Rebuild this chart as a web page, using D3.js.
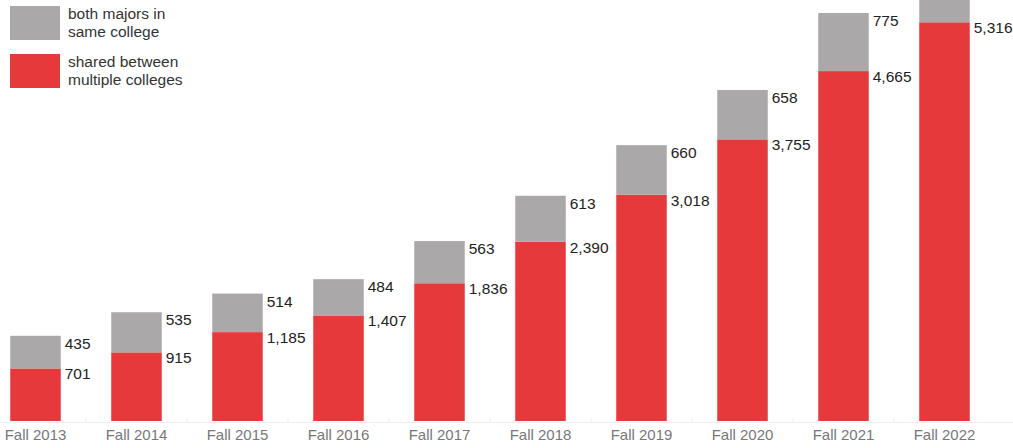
<!DOCTYPE html>
<html>
<head>
<meta charset="utf-8">
<script src="https://cdn.jsdelivr.net/npm/d3@7"></script>
<style>
  body { margin: 0; background: #fff; }
  text { font-family: "Liberation Sans", Arial, Helvetica, sans-serif; }
</style>
</head>
<body>
<div id="container"></div>
<script>
var years = ["Fall 2013", "Fall 2014", "Fall 2015", "Fall 2016", "Fall 2017",
             "Fall 2018", "Fall 2019", "Fall 2020", "Fall 2021", "Fall 2022"];
var shared = [701, 915, 1185, 1407, 1836, 2390, 3018, 3755, 4665, 5316];
var sameCollege = [435, 535, 514, 484, 563, 613, 660, 658, 775, 840];
var legendLabels = [["both majors in", "same college"], ["shared between", "multiple colleges"]];

var width = 1013,
    height = 448;

var red = "#e5393c",
    gray = "#aaa8a8";

var svg = d3.select("#container")
  .append("svg")
  .attr("width", width)
  .attr("height", height);

var x = d3.scaleBand()
  .domain(years)
  .range([-15, 995])
  .paddingInner(0.5)
  .paddingOuter(0.25);

var y = d3.scaleLinear()
  .domain([0, 5613])
  .range([421, 0]);

var data = years.map(function(d, i) {
  return { year: d, shared: shared[i], same: sameCollege[i] };
});

var stack = d3.stack().keys(["shared", "same"]);
var series = stack(data);
var colors = { shared: red, same: gray };

// faint baseline with small ticks between bars
svg.append("line")
  .attr("x1", 0).attr("x2", width)
  .attr("y1", 422.5).attr("y2", 422.5)
  .attr("stroke", "#f0f0f0");

svg.selectAll(".sep")
  .data(years.slice(1))
  .enter()
  .append("line")
  .attr("x1", function(d) { return x(d) - x.step() * 0.25; })
  .attr("x2", function(d) { return x(d) - x.step() * 0.25; })
  .attr("y1", 418).attr("y2", 423)
  .attr("stroke", "#eeeeee");

var groups = svg.selectAll("g.series")
  .data(series)
  .enter()
  .append("g")
  .attr("class", "series")
  .attr("fill", function(d) { return colors[d.key]; });

groups.selectAll("rect")
  .data(function(d) { return d; })
  .enter()
  .append("rect")
  .attr("x", function(d) { return x(d.data.year); })
  .attr("width", x.bandwidth())
  .attr("y", function(d) { return y(d[1]); })
  .attr("height", function(d) { return y(d[0]) - y(d[1]); });

// value labels to the right of each segment top (the one above the frame is cropped off, like the original)
groups.selectAll("text")
  .data(function(d) {
    return d.map(function(v) { v.key = d.key; return v; })
      .filter(function(v) { return y(v[1]) >= 0; });
  })
  .enter()
  .append("text")
  .attr("x", function(d) { return x(d.data.year) + x.bandwidth() + 4; })
  .attr("y", function(d) { return y(d[1]) + (d.key == "same" ? 13 : 11); })
  .attr("fill", "#222")
  .style("font-size", "15.5px")
  .text(function(d) { return d3.format(",")(d.data[d.key]); });

// x axis labels
var xAxis = d3.axisBottom(x).tickSize(0).tickPadding(0);
var ax = svg.append("g")
  .attr("transform", "translate(0,429)")
  .call(xAxis);
ax.select(".domain").remove();
ax.selectAll("text")
  .attr("dy", "0.75em")
  .attr("fill", "#777")
  .style("font-size", "15px")
  .style("font-family", "\"Liberation Sans\", Arial, sans-serif");

// legend
var legend = svg.selectAll("g.legend")
  .data([gray, red])
  .enter()
  .append("g")
  .attr("class", "legend")
  .attr("transform", function(d, i) { return "translate(10," + (6 + i * 48) + ")"; });

legend.append("rect")
  .attr("width", 50)
  .attr("height", 34)
  .attr("fill", function(d) { return d; });

legend.each(function(d, i) {
  var t = d3.select(this).append("text")
    .attr("x", 58)
    .attr("y", 13)
    .attr("fill", "#333")
    .style("font-size", "15.5px");
  t.selectAll("tspan")
    .data(legendLabels[i])
    .enter()
    .append("tspan")
    .attr("x", 58)
    .attr("dy", function(d, j) { return j == 0 ? 0 : 18; })
    .text(function(d) { return d; });
});
</script>
</body>
</html>
